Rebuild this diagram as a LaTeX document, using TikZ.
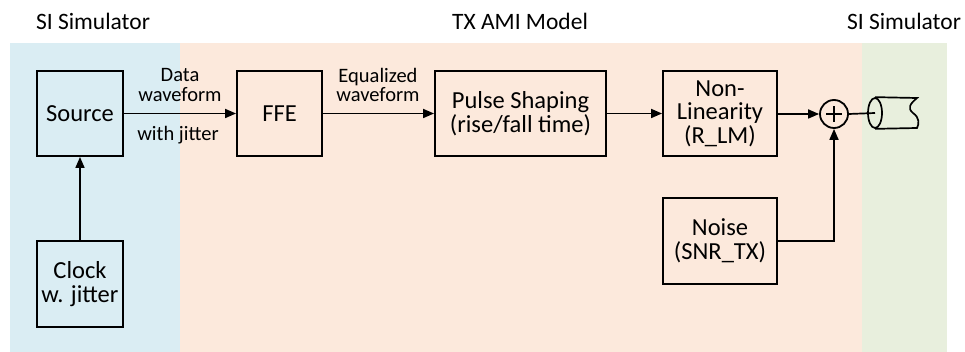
\documentclass[tikz,border=0pt]{standalone}
\usepackage{fontspec}
\setmainfont{Carlito}
\usetikzlibrary{arrows.meta,shapes.geometric}
\definecolor{bgblue}{HTML}{DAEDF3}
\definecolor{bgpeach}{HTML}{FCE9DC}
\definecolor{bggreen}{HTML}{E8EFDD}
\begin{document}
\begin{tikzpicture}[x=1pt,y=-1pt,
  blk/.style={draw, line width=1.9pt, align=center, inner sep=0pt,
    font=\fontsize{24.5}{23.5}\selectfont},
  arr/.style={-{Triangle[length=11pt,width=9pt]}, line width=1.7pt},
  ln/.style={line width=1.7pt},
  lbl/.style={align=center, inner sep=0pt, font=\fontsize{20.5}{19.5}\selectfont},
  ttl/.style={inner sep=0pt, font=\fontsize{23.5}{23}\selectfont}]
\useasboundingbox (0,0) rectangle (965,352);
% backgrounds
\fill[bgblue] (10,43) rectangle (180,352);
\fill[bgpeach] (180,43) rectangle (862,352);
\fill[bggreen] (862,43) rectangle (947,352);
% titles
\node[ttl] (t1) at (93,21) {SI Simulator};
\node[ttl] (t2) at (520,21) {TX AMI Model};
\node[ttl] (t3) at (904,21) {SI Simulator};
% blocks
\node[blk, minimum width=86pt, minimum height=85pt] (src) at (80,113.5) {Source};
\node[blk, minimum width=86pt, minimum height=86pt] (clk) at (80,284) {Clock\\w. jitter};
\node[blk, minimum width=85pt, minimum height=85pt] (ffe) at (279.5,113.5) {FFE};
\node[blk, minimum width=171pt, minimum height=85pt] (pulse) at (520.5,113.5) {Pulse Shaping\\(rise/fall time)};
\node[blk, minimum width=114pt, minimum height=85pt] (nonlin) at (720,113.5) {Non-\\Linearity\\(R\_LM)};
\node[blk, minimum width=114pt, minimum height=86pt] (noise) at (720,241) {Noise\\(SNR\_TX)};
\node[draw, circle, line width=1.8pt, minimum size=28pt, inner sep=0pt] (sum) at (834,114) {};
\draw[ln] ([xshift=-8pt]sum.center) -- ([xshift=8pt]sum.center)
  ([yshift=-8pt]sum.center) -- ([yshift=8pt]sum.center);
% cable
\node[draw, ellipse, line width=1.7pt, minimum width=14pt, minimum height=30pt, inner sep=0pt] (cable) at (875,113) {};
\coordinate (ctop) at (917,98);
\coordinate (cbot) at (917,128);
\draw[ln] (cable.north) -- (ctop)
  .. controls (910,104) and (907,108) .. (913,113)
  .. controls (920,118) and (919,124) .. (cbot) -- (cable.south);
% connectors
\draw[arr] (clk.north) -- (src.south);
\draw[arr] (src.east |- 0,113.5) -- (ffe.west |- 0,113.5);
\draw[arr] (ffe.east) -- (pulse.west);
\draw[arr] (pulse.east) -- (nonlin.west);
\draw[arr] (nonlin.east |- sum.west) -- (sum.west);
\draw[arr] (noise.east) -| (sum.south);
\draw[ln] (sum.east) -- (cable.center);
% labels
\node[lbl] (l1) at (180,85) {Data\\waveform};
\node[lbl] (l2) at (178,135) {with jitter};
\node[lbl] (l3) at (378,85) {Equalized\\waveform};
\end{tikzpicture}
\end{document}
